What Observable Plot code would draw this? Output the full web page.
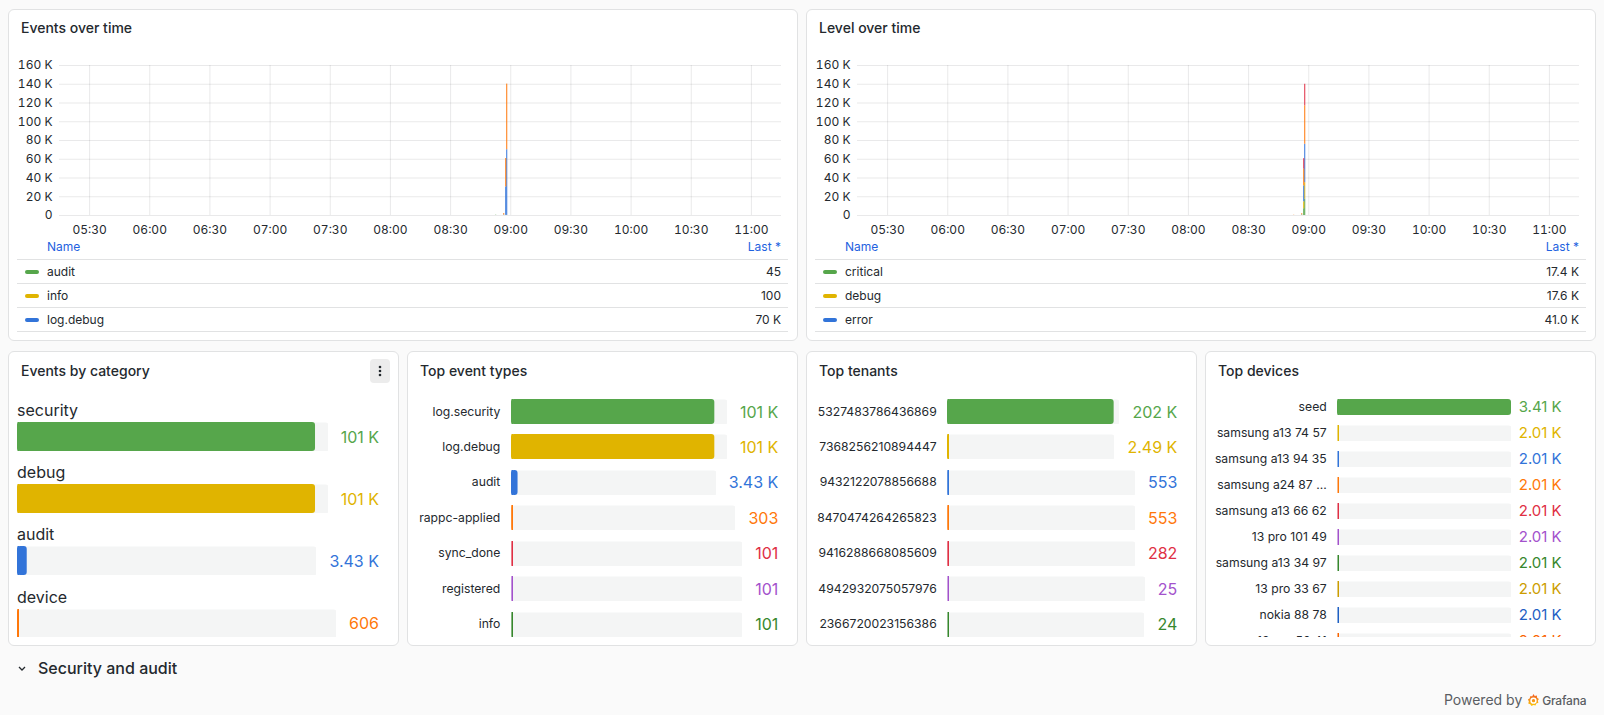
<!DOCTYPE html>
<html>
<head>
<meta charset="utf-8">
<script src="https://cdn.jsdelivr.net/npm/d3@7"></script>
<script src="https://cdn.jsdelivr.net/npm/@observablehq/plot@0.6"></script>
<style>
  html, body { margin: 0; padding: 0; }
  body { width: 1604px; height: 715px; background: #fafafa; font-family: Inter, "Noto Sans", sans-serif; color: #24292e; position: relative; overflow: hidden; }
  .panel { position: absolute; box-sizing: border-box; background: #fff; border: 1px solid #e1e2e3; border-radius: 6px; overflow: hidden; }
  .abs { position: absolute; white-space: nowrap; }
  .title { font-size: 14px; font-weight: 500; line-height: 20px; }
  .legend { position: absolute; overflow: hidden; font-size: 12px; line-height: 20px; }
  .lg-head, .lg-row { position: absolute; left: 0; right: 0; box-sizing: border-box; border-bottom: 1px solid #e1e2e3; }
  .lg-head { color: #1f62e0; }
  .swatch { position: absolute; width: 14px; height: 4px; border-radius: 2px; }
  .clip { position: absolute; left: 0; top: 0; right: 0; overflow: hidden; }
  svg.plot { display: block; }
</style>
</head>
<body>
<script>
// Grafana-style classic palette (light theme)
const palette = ["#56A64B", "#E0B400", "#3274D9", "#FF780A", "#E02F44", "#A352CC", "#37872D", "#CC9D00", "#1F60C4", "#FA6400"];

// ---- time series data ----
const day = "2024-05-14T";
const axisTicks = ["05:30", "06:00", "06:30", "07:00", "07:30", "08:00", "08:30", "09:00", "09:30", "10:00", "10:30", "11:00"];
const timeDomain = ["05:15:00", "11:15:00"];
const valueTicks = [0, 20000, 40000, 60000, 80000, 100000, 120000, 140000, 160000];
const sampleTimes = ["08:52:30", "08:56:30", "08:57:30", "08:58:00"];

const eventNames = ["audit", "info", "log.debug", "log.security"];
const eventAudit = [310, 120, 40, 45];
const eventInfo = [0, 90, 100, 100];
const eventLogDebug = [0, 300, 30300, 70000];
const eventLogSecurity = [0, 1500, 30300, 70000];

const levelNames = ["critical", "debug", "error", "info", "warning"];
const levelCritical = [0, 300, 7200, 17400];
const levelDebug = [0, 150, 7400, 17600];
const levelError = [0, 250, 17000, 41000];
const levelInfo = [250, 1200, 17800, 41000];
const levelWarning = [0, 0, 11200, 23000];

// ---- bar gauge data ----
const categoryLabels = ["security", "debug", "audit", "device"];
const categoryValues = [101000, 101000, 3430, 606];
const categoryRange = [0, 105400];

const typeLabels = ["log.security", "log.debug", "audit", "rappc-applied", "sync_done", "registered", "info"];
const typeValues = [101000, 101000, 3430, 303, 101, 101, 101];
const typeRange = [0, 107300];

const tenantLabels = ["5327483786436869", "7368256210894447", "9432122078856688", "8470474264265823", "9416288668085609", "4942932075057976", "2366720023156386"];
const tenantValues = [202000, 2490, 553, 553, 282, 25, 24];
const tenantRange = [0, 208500];

const deviceLabels = ["seed", "samsung a13 74 57", "samsung a13 94 35", "samsung a24 87 ...", "samsung a13 66 62", "13 pro 101 49", "samsung a13 34 97", "13 pro 33 67", "nokia 88 78", "13 pro 50 41"];
const deviceValues = [3410, 2010, 2010, 2010, 2010, 2010, 2010, 2010, 2010, 2010];
const deviceRange = [2010, 3410];

// ---- helpers ----
const toDate = s => new Date(day + (s.length === 5 ? s + ":00" : s) + "Z");

function fmtShort(v, decimals) {
  if (v < 1000) return String(v);
  const k = v / 1000;
  if (decimals != null) return k.toFixed(decimals) + " K";
  return (k >= 100 ? k.toFixed(0) : k >= 10 ? k.toFixed(1) : k.toFixed(2)) + " K";
}
const axisK = v => v === 0 ? "0" : (v / 1000) + " K";

const canvas = document.createElement("canvas");
const ctx = canvas.getContext("2d");
function textWidth(text, font) { ctx.font = font; return ctx.measureText(text).width; }

function makePanel(x, y, w, h) {
  const d = document.createElement("div");
  d.className = "panel";
  Object.assign(d.style, {left: x + "px", top: y + "px", width: w + "px", height: h + "px"});
  d._ox = x + 1; d._oy = y + 1; d._rx = x + w - 1;
  document.body.append(d);
  return d;
}
function place(parent, el, ax, ay) {
  el.style.left = (ax - parent._ox) + "px";
  el.style.top = (ay - parent._oy) + "px";
  parent.append(el);
  return el;
}
function text(parent, str, ax, cy, opts = {}) {
  const el = document.createElement("div");
  el.className = "abs " + (opts.cls || "");
  el.textContent = str;
  const lh = opts.lineHeight || 20;
  el.style.lineHeight = lh + "px";
  if (opts.size) el.style.fontSize = opts.size + "px";
  if (opts.weight) el.style.fontWeight = opts.weight;
  if (opts.color) el.style.color = opts.color;
  place(parent, el, ax, cy - lh / 2);
  return el;
}

// ---- time series panels ----
function timeSeriesPanel(px, title, names, seriesValues, decimals) {
  const p = makePanel(px, 9, 790, 332);
  text(p, title, px + 13, 28, {cls: "title"});

  const rows = [];
  names.forEach((name, si) => {
    sampleTimes.forEach((t, ti) => {
      const start = toDate(t);
      rows.push({series: name, t1: start, t2: new Date(+start + 30000), value: seriesValues[si][ti]});
    });
  });
  const xTicks = axisTicks.map(toDate);

  const chart = Plot.plot({
    width: 788, height: 182,
    marginLeft: 50, marginRight: 16, marginTop: 10, marginBottom: 22,
    style: {fontFamily: "Inter, sans-serif", fontSize: "12px", color: "#24292e", background: "transparent", overflow: "visible"},
    x: {type: "utc", domain: timeDomain.map(toDate), ticks: xTicks, tickFormat: d3.utcFormat("%H:%M"), tickSize: 0, tickPadding: 10, label: null, grid: true},
    y: {domain: [0, 160000], ticks: valueTicks, tickFormat: axisK, tickSize: 0, tickPadding: 7, label: null, grid: true},
    color: {domain: names, range: palette},
    marks: [
      Plot.rectY(rows, {x1: "t1", x2: "t2", y: "value", fill: "series"})
    ]
  });
  chart.style.position = "absolute";
  place(p, chart, px + 1, 55);

  // legend table (Name / Last *); only the rows that fit the legend box are shown
  const legendHeight = 95, headHeight = 23, rowHeight = 24;
  const lg = document.createElement("div");
  lg.className = "legend";
  lg.style.width = "771px";
  lg.style.height = legendHeight + "px";
  place(p, lg, px + 9, 237);
  const head = document.createElement("div");
  head.className = "lg-head";
  head.style.top = "0px"; head.style.height = headHeight + "px";
  head.innerHTML = '<span class="abs" style="left:30px;top:0">Name</span><span class="abs" style="right:7px;top:0">Last *</span>';
  lg.append(head);
  const visibleRows = Math.floor((legendHeight - headHeight) / rowHeight);
  names.slice(0, visibleRows).forEach((name, i) => {
    const r = document.createElement("div");
    r.className = "lg-row";
    r.style.top = (headHeight + rowHeight * i) + "px"; r.style.height = rowHeight + "px";
    const sw = document.createElement("div");
    sw.className = "swatch";
    sw.style.left = "8px"; sw.style.top = "9.5px"; sw.style.background = palette[i];
    r.append(sw);
    const n = document.createElement("span");
    n.className = "abs"; n.style.left = "30px"; n.style.top = "1.5px"; n.textContent = name;
    const v = document.createElement("span");
    const vals = seriesValues[i];
    v.className = "abs"; v.style.right = "7px"; v.style.top = "1.5px"; v.textContent = fmtShort(vals[vals.length - 1], decimals);
    r.append(n, v);
    lg.append(r);
  });
}

timeSeriesPanel(8, "Events over time", eventNames, [eventAudit, eventInfo, eventLogDebug, eventLogSecurity], 0);
timeSeriesPanel(806, "Level over time", levelNames, [levelCritical, levelDebug, levelError, levelInfo, levelWarning], 1);

// ---- bar gauge panels ----
function barRow(value, range, color, w, h) {
  return Plot.plot({
    width: w, height: h, margin: 0,
    x: {domain: range, axis: null},
    style: {background: "transparent"},
    marks: [
      Plot.frame({fill: "#f4f5f5", stroke: "none", rx: 3}),
      Plot.ruleX([range[0]], {stroke: color, strokeWidth: 1.5, dx: 0.75}),
      Plot.barX([value], {x1: range[0], x2: d => d, fill: color, rx: 3})
    ]
  });
}

function barGaugePanel(cfg) {
  const p = makePanel(cfg.x, 351, 391, 295);
  text(p, cfg.title, cfg.x + 13, 371, {cls: "title"});
  const clip = document.createElement("div");
  clip.className = "clip";
  clip.style.top = (387 - p._oy) + "px";
  clip.style.height = (637 - 387) + "px";
  p.append(clip);
  clip._ox = p._ox; clip._oy = 387; clip._rx = p._rx;

  cfg.labels.forEach((label, i) => {
    const top = cfg.top0 + cfg.pitch * i;
    const cy = top + cfg.barH / 2;
    const color = palette[i % palette.length];
    const valStr = fmtShort(cfg.values[i]);
    const vw = textWidth(valStr, cfg.valueFont + "px Inter");
    const bgRight = cfg.valueRight - vw - cfg.gap;
    const w = Math.round(bgRight - cfg.barLeft);

    if (cfg.labelAbove) {
      text(clip, label, cfg.barLeft, top - 12, {size: cfg.labelFont, lineHeight: 22});
    } else {
      const el = text(clip, label, 0, cy, {size: cfg.labelFont, lineHeight: 18});
      el.style.left = "";
      el.style.right = (clip._rx - cfg.labelRight) + "px";
    }
    const svg = barRow(cfg.values[i], cfg.range, color, w, cfg.barH);
    svg.style.position = "absolute";
    place(clip, svg, cfg.barLeft, top);
    text(clip, valStr, cfg.valueRight - vw, cy, {size: cfg.valueFont, lineHeight: 22, color});
  });
  return p;
}

const catPanel = barGaugePanel({x: 8, title: "Events by category", labels: categoryLabels, values: categoryValues, range: categoryRange,
  labelAbove: true, barLeft: 17, valueRight: 379, gap: 13, top0: 422, pitch: 62.2, barH: 29, valueFont: 16, labelFont: 16});
barGaugePanel({x: 407, title: "Top event types", labels: typeLabels, values: typeValues, range: typeRange,
  labelRight: 500.3, barLeft: 511, valueRight: 778.3, gap: 13, top0: 399, pitch: 35.45, barH: 25, valueFont: 16, labelFont: 12.2});
barGaugePanel({x: 806, title: "Top tenants", labels: tenantLabels, values: tenantValues, range: tenantRange,
  labelRight: 936.7, barLeft: 947, valueRight: 1177.3, gap: 13, top0: 399, pitch: 35.45, barH: 25, valueFont: 16, labelFont: 12.2});
barGaugePanel({x: 1205, title: "Top devices", labels: deviceLabels, values: deviceValues, range: deviceRange,
  labelRight: 1326.7, barLeft: 1337, valueRight: 1561.7, gap: 8, top0: 399, pitch: 26, barH: 16, valueFont: 15, labelFont: 12.2});

// panel menu button
const menu = document.createElement("div");
menu.className = "abs";
Object.assign(menu.style, {width: "20px", height: "24px", background: "#ececec", borderRadius: "4px"});
menu.innerHTML = '<svg width="20" height="24"><circle cx="10" cy="8" r="1.3" fill="#24292e"/><circle cx="10" cy="12" r="1.3" fill="#24292e"/><circle cx="10" cy="16" r="1.3" fill="#24292e"/></svg>';
place(catPanel, menu, 370, 359);

// collapsed row header
const row = document.createElement("div");
row.className = "abs";
Object.assign(row.style, {left: "17px", top: "657px", lineHeight: "22px", fontSize: "16px", fontWeight: 500});
row.innerHTML = '<svg width="10" height="22" style="vertical-align:top;margin-right:11px"><polyline points="2,10 5,13 8,10" fill="none" stroke="#24292e" stroke-width="1.3"/></svg>Security and audit';
document.body.append(row);

// footer
const foot = document.createElement("div");
foot.className = "abs";
Object.assign(foot.style, {left: "1444px", top: "690px", lineHeight: "20px", fontSize: "14px", color: "#5a5e63"});
foot.innerHTML = 'Powered by <svg width="13" height="17" viewBox="0 0 14 17" style="vertical-align:-4px;margin:0 2px 0 1px">' +
  '<defs><linearGradient id="gl" x1="0" y1="1" x2="0" y2="0"><stop offset="0" stop-color="#FBCA0A"/><stop offset="1" stop-color="#F05A28"/></linearGradient></defs>' +
  '<path d="M7 1.5 L8.3 3.6 L10.6 3.2 L10.9 5.5 L12.8 6.8 L11.6 8.8 L12.3 11 L10 11.8 L9.2 14 L7 13.3 L4.8 14.5 L3.5 12.5 L1.3 11.8 L2 9.5 L1 7.4 L3 6.2 L3.4 3.8 L5.7 4 Z" fill="url(#gl)"/>' +
  '<circle cx="7" cy="8.7" r="2.6" fill="none" stroke="#fff" stroke-width="1.6"/></svg><span style="font-size:12px;font-weight:500;letter-spacing:-0.2px">Grafana</span>';
document.body.append(foot);
</script>
</body>
</html>
